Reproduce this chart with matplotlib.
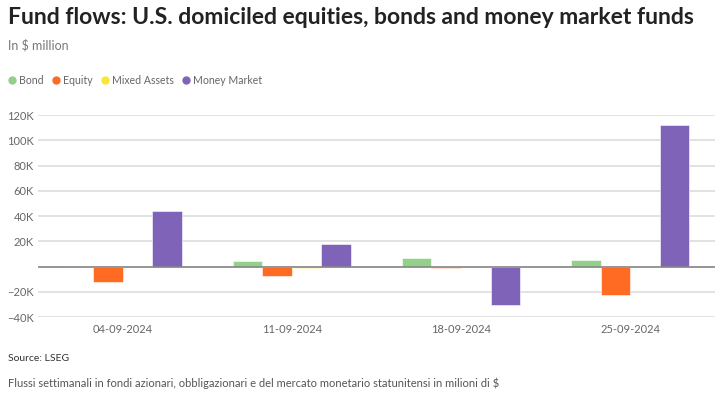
import matplotlib
matplotlib.use("Agg")
import matplotlib.pyplot as plt
from matplotlib.lines import Line2D
from matplotlib.ticker import FuncFormatter
import numpy as np

# Data (in $ million)
weeks = ["04-09-2024", "11-09-2024", "18-09-2024", "25-09-2024"]
bond = [0, 4200, 6600, 5600]
equity = [-11900, -7700, -1300, -22500]
mixed = [-500, -900, -300, -400]
money_market = [44200, 17700, -30200, 112100]

series = ["Bond", "Equity", "Mixed Assets", "Money Market"]
colors = ["#93d08a", "#ff6b22", "#f8e63a", "#7f63b8"]

plt.rcParams['font.family'] = ['Lato', 'DejaVu Sans']

fig = plt.figure(figsize=(7.22, 3.93), dpi=100)
ax = fig.add_axes([0.0526, 0.193, 0.9374, 0.514])

x = np.arange(len(weeks))
w = 0.175
for i, vals in enumerate([bond, equity, mixed, money_market]):
    ax.bar(x + (i - 1.5) * w, vals, width=w, color=colors[i],
           edgecolor="white", linewidth=0.4, zorder=3)

ax.set_xlim(-0.5, 3.5)
ax.set_ylim(-40000, 120000)
ax.set_yticks(np.arange(-40000, 120001, 20000))
ax.yaxis.set_major_formatter(FuncFormatter(
    lambda v, p: "" if v == 0 else ("\u2212%dK" % abs(v / 1000) if v < 0 else "%dK" % (v / 1000))))
ax.set_xticks(x)
ax.set_xticklabels(weeks)
ax.grid(axis="y", color="#dddddd", linewidth=1.2, zorder=0)
ax.axhline(0, color="#888888", linewidth=1.2, zorder=4)
for s in ax.spines.values():
    s.set_visible(False)
ax.tick_params(axis="both", length=0, labelsize=8, labelcolor="#666666")
ax.tick_params(axis="y", pad=3)
ax.tick_params(axis="x", pad=5)

fig.text(0.011, 0.955, "Fund flows: U.S. domiciled equities, bonds and money market funds",
         fontsize=16.5, fontweight="bold", color="#222222", va="center")
fig.text(0.011, 0.885, "In $ million", fontsize=9, color="#777777", va="center")

handles = [Line2D([], [], marker="o", linestyle="", color=c, markersize=5) for c in colors]
fig.legend(handles, series, loc="center left", bbox_to_anchor=(0.003, 0.795), ncol=4,
           frameon=False, fontsize=7.6, handletextpad=0.15, columnspacing=0.7,
           labelcolor="#666666", handlelength=1.0, borderaxespad=0)

fig.text(0.011, 0.088, "Source: LSEG", fontsize=7.5, color="#333333", va="center")
fig.text(0.011, 0.025,
         "Flussi settimanali in fondi azionari, obbligazionari e del mercato monetario statunitensi in milioni di $",
         fontsize=8, color="#555555", va="center")

fig.savefig("out.png", dpi=100)
